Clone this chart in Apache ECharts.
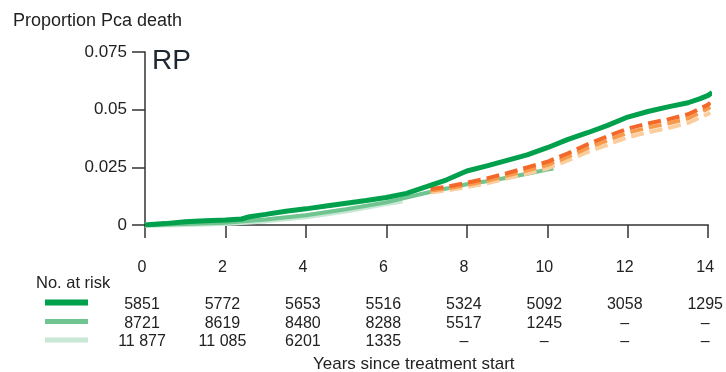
<!DOCTYPE html>
<html>
<head>
<meta charset="utf-8">
<script src="https://cdn.jsdelivr.net/npm/echarts@6/dist/echarts.min.js"></script>
<style>
  html, body { margin: 0; padding: 0; background: #fff; }
  #chart { width: 726px; height: 372px; }
</style>
</head>
<body>
<div id="chart"></div>
<script>
// Cumulative proportion of prostate cancer death after radical prostatectomy (RP)
const FONT = '"Liberation Sans", Arial, Helvetica, sans-serif';

// Tick years shared by the plot and the at-risk table
const yearTicks = [0, 2, 4, 6, 8, 10, 12, 14];

// Cohort 1 (dark green, n = 5851)
const c1Years = [0, 0.5, 1, 1.5, 2, 2.4, 2.6, 3, 3.5, 4, 4.5, 5, 5.5, 6, 6.5, 7, 7.5, 8, 8.5, 9, 9.5, 10, 10.5, 11, 11.5, 12, 12.5, 13, 13.5, 13.8, 14, 14.1];
const c1Values = [0, 0.0006, 0.0014, 0.0018, 0.0022, 0.0026, 0.0036, 0.0046, 0.0060, 0.0070, 0.0082, 0.0094, 0.0106, 0.0119, 0.0137, 0.0166, 0.0196, 0.0234, 0.0256, 0.0280, 0.0304, 0.0335, 0.0370, 0.0400, 0.0432, 0.0468, 0.0492, 0.0512, 0.0530, 0.0548, 0.0562, 0.0574];

// Cohort 2 (mid green, n = 8721)
const c2Years = [0, 1, 2, 3, 4, 5, 6, 7, 8, 8.5, 9, 9.5, 10, 10.15];
const c2Values = [0, 0.0004, 0.0010, 0.0024, 0.0042, 0.0068, 0.0098, 0.0140, 0.0177, 0.0190, 0.0205, 0.0222, 0.0240, 0.0245];

// Cohort 3 (pale green, n = 11 877)
const c3Years = [0, 1, 2, 3, 4, 5, 6, 6.4];
const c3Values = [0, 0.0004, 0.0009, 0.0020, 0.0038, 0.0063, 0.0095, 0.0106];

// Comparison curves (dashed oranges)
const refYears = [7.1, 7.5, 8, 8.5, 9, 9.5, 10, 10.5, 11, 11.5, 12, 12.5, 13, 13.5, 14, 14.05];
const refAValues = [0.0156, 0.0166, 0.0183, 0.0202, 0.0225, 0.0250, 0.0274, 0.0310, 0.0350, 0.0385, 0.0418, 0.0440, 0.0458, 0.0480, 0.0522, 0.0530];
const refBValues = [0.0149, 0.0158, 0.0174, 0.0192, 0.0214, 0.0237, 0.0260, 0.0295, 0.0334, 0.0367, 0.0400, 0.0422, 0.0440, 0.0462, 0.0505, 0.0512];
const refCValues = [0.0141, 0.0150, 0.0164, 0.0181, 0.0202, 0.0223, 0.0245, 0.0279, 0.0316, 0.0348, 0.0380, 0.0402, 0.0420, 0.0442, 0.0482, 0.0488];

// Number at risk, one row per cohort (null = no patients left)
const risk1 = [5851, 5772, 5653, 5516, 5324, 5092, 3058, 1295];
const risk2 = [8721, 8619, 8480, 8288, 5517, 1245, null, null];
const risk3 = [11877, 11085, 6201, 1335, null, null, null, null];

const yTicks = [0, 0.025, 0.05, 0.075];

const colors = {
  c1: '#00a04c',
  c2: '#6fc490',
  c3: '#c8e8d5',
  refA: '#f2692a',
  refB: '#f79a4c',
  refC: '#fbcd9c'
};

const zip = (xs, ys) => xs.map((x, i) => [x, ys[i]]);

function fmtRisk(n) {
  if (n == null) return '–';
  const s = String(n);
  return n >= 10000 ? s.slice(0, s.length - 3) + ' ' + s.slice(-3) : s;
}

const chart = echarts.init(document.getElementById('chart'), null, { renderer: 'canvas' });

const axisColor = '#333';
const textColor = '#222';

function riskAxis(row, offset) {
  return {
    type: 'value', gridIndex: 0, position: 'bottom', offset: offset,
    min: 0, max: 14, interval: 2,
    axisLine: { show: false }, axisTick: { show: false }, splitLine: { show: false },
    axisLabel: {
      show: true, margin: 35, fontSize: 16, fontFamily: FONT, color: textColor,
      padding: [0, 6, 0, 0], showMinLabel: true, showMaxLabel: true,
      formatter: v => fmtRisk(row[yearTicks.indexOf(v)])
    }
  };
}

const option = {
  animation: false,
  backgroundColor: '#fff',
  title: [
    { text: 'Proportion Pca death', left: 8, top: 7,
      textStyle: { fontSize: 18, fontWeight: 'normal', color: textColor, fontFamily: FONT } },
    { text: 'RP', left: 147, top: 42,
      textStyle: { fontSize: 28, fontWeight: 'normal', color: '#1e2630', fontFamily: FONT } }
  ],
  grid: { left: 145, right: 13, top: 52, bottom: 147, containLabel: false },
  xAxis: [
    {
      type: 'value', min: 0, max: 14, interval: 2,
      axisLine: { show: true, onZero: false, lineStyle: { color: axisColor, width: 1.5 } },
      axisTick: { show: true, length: 13, inside: false, lineStyle: { color: axisColor, width: 1.5 } },
      splitLine: { show: false },
      axisLabel: { margin: 35, fontSize: 16, fontFamily: FONT, color: textColor, padding: [0, 6, 0, 0],
        formatter: v => String(v) }
    },
    riskAxis(risk1, 37),
    riskAxis(risk2, 56),
    riskAxis(risk3, 74)
  ],
  yAxis: {
    type: 'value', min: 0, max: 0.075, interval: 0.025,
    axisLine: { show: true, lineStyle: { color: axisColor, width: 1.5 } },
    axisTick: { show: true, length: 13, lineStyle: { color: axisColor, width: 1.5 } },
    splitLine: { show: false },
    axisLabel: { margin: 18, fontSize: 17, fontFamily: FONT, color: textColor,
      formatter: v => (yTicks.find(t => Math.abs(t - v) < 1e-9) === 0 ? '0' : String(+v.toFixed(3))) }
  },
  series: [
    { name: 'c3', type: 'line', data: zip(c3Years, c3Values), showSymbol: false, z: 2,
      lineStyle: { color: colors.c3, width: 6 } },
    { name: 'c2', type: 'line', data: zip(c2Years, c2Values), showSymbol: false, z: 3,
      lineStyle: { color: colors.c2, width: 4 } },
    { name: 'refC', type: 'line', data: zip(refYears, refCValues), showSymbol: false, z: 4,
      lineStyle: { color: colors.refC, width: 4, type: [13, 6] } },
    { name: 'refB', type: 'line', data: zip(refYears, refBValues), showSymbol: false, z: 5,
      lineStyle: { color: colors.refB, width: 4, type: [13, 6] } },
    { name: 'refA', type: 'line', data: zip(refYears, refAValues), showSymbol: false, z: 6,
      lineStyle: { color: colors.refA, width: 4, type: [13, 6] } },
    { name: 'c1', type: 'line', data: zip(c1Years, c1Values), showSymbol: false, z: 7,
      lineStyle: { color: colors.c1, width: 5 } }
  ],
  graphic: [
    { type: 'text', left: 36, top: 275,
      style: { text: 'No. at risk', fontSize: 16.5, fontFamily: FONT, fill: textColor } },
    { type: 'rect', shape: { x: 45, y: 299.5, width: 43, height: 6 }, style: { fill: colors.c1 } },
    { type: 'rect', shape: { x: 45, y: 319, width: 43, height: 5 }, style: { fill: colors.c2 } },
    { type: 'rect', shape: { x: 45, y: 337.5, width: 43, height: 5 }, style: { fill: colors.c3 } },
    { type: 'text', left: 313, top: 356,
      style: { text: 'Years since treatment start', fontSize: 17, fontFamily: FONT, fill: textColor } }
  ]
};

chart.setOption(option);
</script>
</body>
</html>
